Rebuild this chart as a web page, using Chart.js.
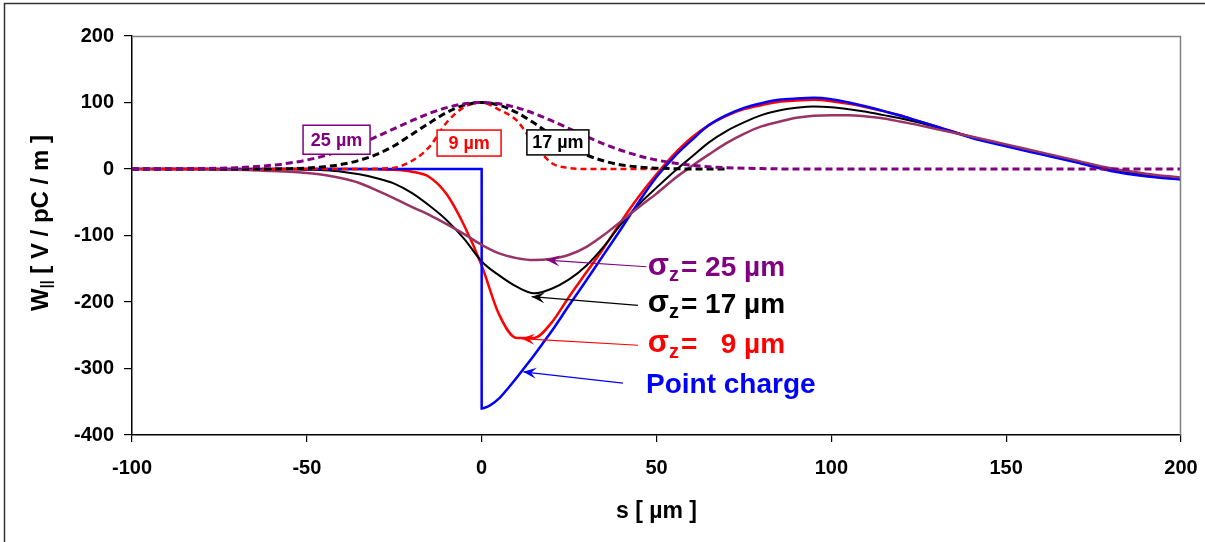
<!DOCTYPE html>
<html>
<head>
<meta charset="utf-8">
<script src="https://cdn.jsdelivr.net/npm/chart.js@4.4.1/dist/chart.umd.min.js"></script>
<style>
  html, body { margin: 0; padding: 0; background: #fff; overflow: hidden; }
  canvas { display: block; }
</style>
</head>
<body>
<canvas id="wake-chart" width="1205" height="542"></canvas>
<script>
// s positions [um] shared by the smoothed bunch wakes
const sSolid = [-100, -90, -80, -75, -70, -60, -55, -50, -45, -40, -35, -30, -25, -20, -15, -10, -5,
  0, 5, 10, 15, 20, 25, 30, 35, 40, 45, 50, 55, 60, 65, 70, 75, 80, 85, 90, 95, 100, 105, 110,
  115, 120, 125, 130, 140, 150, 160, 170, 180, 190, 200];

// wake potentials W|| [V/pC/m]
const wake9 = [0, 0, 0, 0, 0, 0, 0, 0, 0, 0, 0, -0.5, -1, -4, -12, -38, -85,
  -145, -219, -254, -254, -231, -192, -155, -118, -78, -41, -8, 22, 47, 66, 80, 90, 96, 101, 103, 104, 102, 98, 93,
  87, 80, 72, 64, 48, 35, 23, 11, -2, -10, -15];
const wake17 = [0, 0, 0, 0, 0, 0, 0, -1, -2, -4, -8, -14, -22, -36, -55, -77, -105,
  -139, -160, -177, -187, -180, -166, -145, -116, -82, -53, -28, -4, 18, 40, 57, 70, 81, 88, 92, 94, 93, 90, 86,
  81, 76, 70, 63, 48, 35, 23, 11, -1, -9, -14];
const wake25 = [0, 0, 0, -1, -1, -3, -4, -6, -9, -14, -21, -32, -44, -57, -69, -83, -98,
  -114, -127, -134, -137, -135, -129, -117, -99, -78, -57, -37, -15, 4, 22, 39, 53, 64, 71, 77, 80, 81, 81, 79,
  76, 71, 66, 60, 49, 37, 25, 13, 1, -7, -13];

// point charge wake (drops to its minimum right at s = 0)
const sPoint = [-100, -50, 0, 0, 2.5, 5, 7.5, 10, 12.5, 15, 17.5, 20, 25, 30, 35, 40, 45, 50, 55, 60, 65,
  70, 75, 80, 85, 90, 95, 100, 105, 110, 115, 120, 125, 130, 140, 150, 160, 170, 180, 190, 200];
const wakePoint = [0, 0, 0, -360, -355, -345, -330, -314, -297, -280, -262, -244, -205, -167, -128, -89, -49, -12, 18, 43, 66,
  81, 92, 99, 104, 106, 107, 105, 100, 94, 87, 80, 72, 64, 47, 34, 22, 10, -3, -11, -16];

// bunch profiles (normalised to 100)
const sBunch = [-100, -90, -80, -70, -60, -55, -50, -45, -40, -35, -30, -25, -20, -15, -10, -5,
  0, 5, 10, 15, 20, 25, 30, 35, 40, 45, 50, 55, 60, 65, 70, 80, 90, 100, 120, 140, 160, 180, 200];
const bunch9 = [0, 0, 0, 0, 0, 0, 0, 0, 0, 0, 0.5, 2, 12, 33, 70, 93,
  100, 89, 73, 38, 9, 1.5, 0, 0, 0, 0, 0, null, null, null, null, null, null, null, null, null, null, null, null];
const bunch17 = [0, 0, 0, 0, 0, 0.5, 1.5, 3.5, 7, 13, 22, 35, 52, 69, 85, 96,
  100, 96, 85, 69, 51, 34, 21, 12, 6, 3, 1.3, 0.5, 0, 0, 0, null, null, null, null, null, null, null, null];
const bunch25 = [0, 0, 0.6, 2, 5.6, 8.9, 13.5, 19.8, 27.8, 37.5, 48.7, 60.7, 72.6, 83.5, 92.3, 98,
  100, 98, 92.3, 83.5, 72.6, 60.7, 48.7, 37.5, 27.8, 19.8, 13.5, 8.9, 5.6, 3.4, 2, 0.6, 0, 0, 0, 0, 0, 0, 0];

const xTicks = [-100, -50, 0, 50, 100, 150, 200];
const yTicks = [-400, -300, -200, -100, 0, 100, 200];

const FONT = '"Liberation Sans", Arial, Helvetica, sans-serif';
const BLUE = '#0000FF', RED = '#FF0000', BLACK = '#000000', PURPLE = '#800080', PLUM = '#993366';

const pairs = (xs, ys) => xs.map((x, i) => ({ x, y: ys[i] }));

// callouts: label boxes on the bunch profiles and arrows to the wakes
const boxes = [
  { text: '25 µm', color: PURPLE, at: [-41.5, 44], w: 67, h: 29 },
  { text: '9 µm', color: RED, at: [-3.6, 39], w: 64, h: 26 },
  { text: '17 µm', color: BLACK, at: [21.8, 40], w: 62, h: 25 }
];
const arrows = [
  { sigma: true, value: '25 µm', color: PURPLE, tail: [47.1, -147], tip: [18.6, -137], at: [47.5, -149] },
  { sigma: true, value: '17 µm', color: BLACK, tail: [44.7, -205], tip: [14.3, -192], at: [47.5, -205] },
  { sigma: true, value: '  9 µm', color: RED, tail: [44.7, -265], tip: [11.4, -255], at: [47.5, -265] },
  { sigma: false, value: 'Point charge', color: BLUE, tail: [40.4, -322], tip: [11.9, -305], at: [47.0, -325] }
];

function arrowHead(ctx, x0, y0, x1, y1, color) {
  const a = Math.atan2(y1 - y0, x1 - x0);
  const len = 13, half = 5.5;
  ctx.save();
  ctx.translate(x1, y1);
  ctx.rotate(a);
  ctx.fillStyle = color;
  ctx.beginPath();
  ctx.moveTo(0, 0);
  ctx.lineTo(-len, -half);
  ctx.lineTo(-len * 0.6, 0);
  ctx.lineTo(-len, half);
  ctx.closePath();
  ctx.fill();
  ctx.restore();
}

const decorations = {
  id: 'decorations',
  beforeDraw(chart) {
    const ctx = chart.ctx;
    ctx.save();
    ctx.fillStyle = '#fff';
    ctx.fillRect(0, 0, chart.width, chart.height);
    ctx.strokeStyle = '#333';
    ctx.lineWidth = 1.5;
    ctx.beginPath();
    ctx.moveTo(4.5, chart.height);
    ctx.lineTo(4.5, 3.5);
    ctx.lineTo(chart.width, 3.5);
    ctx.stroke();
    ctx.restore();
  },
  afterDatasetsDraw(chart) {
    const ctx = chart.ctx;
    const { left, right, top, bottom } = chart.chartArea;
    const xs = chart.scales.x, ys = chart.scales.y;
    const px = v => xs.getPixelForValue(v), py = v => ys.getPixelForValue(v);

    ctx.save();
    // plot area frame (top / right)
    ctx.strokeStyle = '#808080';
    ctx.lineWidth = 1.5;
    ctx.beginPath();
    ctx.moveTo(left, top + 0.5);
    ctx.lineTo(right - 0.5, top + 0.5);
    ctx.lineTo(right - 0.5, bottom);
    ctx.stroke();

    // profile label boxes
    for (const b of boxes) {
      const cx = px(b.at[0]), cy = py(b.at[1]);
      ctx.fillStyle = '#fff';
      ctx.fillRect(cx - b.w / 2, cy - b.h / 2, b.w, b.h);
      ctx.strokeStyle = b.color;
      ctx.lineWidth = 1.5;
      ctx.strokeRect(cx - b.w / 2, cy - b.h / 2, b.w, b.h);
      ctx.fillStyle = b.color;
      ctx.font = 'bold 18px ' + FONT;
      ctx.textAlign = 'center';
      ctx.textBaseline = 'middle';
      ctx.fillText(b.text, cx, cy + 1);
    }

    // arrows + labels
    for (const a of arrows) {
      const x0 = px(a.tail[0]), y0 = py(a.tail[1]);
      const x1 = px(a.tip[0]), y1 = py(a.tip[1]);
      ctx.strokeStyle = a.color;
      ctx.lineWidth = 1.2;
      ctx.beginPath();
      ctx.moveTo(x0, y0);
      ctx.lineTo(x1, y1);
      ctx.stroke();
      arrowHead(ctx, x0, y0, x1, y1, a.color);

      let tx = px(a.at[0]);
      const ty = py(a.at[1]);
      ctx.fillStyle = a.color;
      ctx.textAlign = 'left';
      ctx.textBaseline = 'middle';
      if (a.sigma) {
        ctx.font = 'bold 31px ' + FONT;
        ctx.fillText('σ', tx, ty - 2);
        tx += ctx.measureText('σ').width;
        ctx.font = 'bold 20px ' + FONT;
        ctx.fillText('z', tx, ty + 7);
        tx += ctx.measureText('z').width + 2;
        ctx.font = 'bold 28px ' + FONT;
        ctx.fillText('= ' + a.value, tx, ty);
      } else {
        ctx.font = 'bold 28px ' + FONT;
        ctx.fillText(a.value, tx, ty);
      }
    }

    // axis titles
    ctx.fillStyle = '#000';
    ctx.font = 'bold 23px ' + FONT;
    ctx.textAlign = 'center';
    ctx.textBaseline = 'middle';
    ctx.fillText('s [ µm ]', (left + right) / 2, 512);

    ctx.translate(41, 223);
    ctx.rotate(-Math.PI / 2);
    const main = ' [ V / pC / m ]';
    ctx.font = 'bold 24px ' + FONT;
    const wW = ctx.measureText('W').width;
    const wMain = ctx.measureText(main).width;
    ctx.font = 'bold 14px ' + FONT;
    const wSub = ctx.measureText('||').width;
    let x = -(wW + wSub + wMain) / 2;
    ctx.textAlign = 'left';
    ctx.font = 'bold 24px ' + FONT;
    ctx.fillText('W', x, 0);
    x += wW;
    ctx.font = 'bold 14px ' + FONT;
    ctx.fillText('||', x, 6);
    x += wSub;
    ctx.font = 'bold 24px ' + FONT;
    ctx.fillText(main, x, 0);
    ctx.restore();
  }
};

const tickFont = { family: FONT, size: 20, weight: 'bold' };

new Chart(document.getElementById('wake-chart'), {
  type: 'line',
  data: {
    datasets: [
      { label: 'bunch 25 um', data: pairs(sBunch, bunch25), borderColor: PURPLE, borderWidth: 3, borderDash: [7, 4] },
      { label: 'bunch 17 um', data: pairs(sBunch, bunch17), borderColor: BLACK, borderWidth: 3, borderDash: [7, 4] },
      { label: 'bunch 9 um', data: pairs(sBunch, bunch9), borderColor: RED, borderWidth: 2.5, borderDash: [6, 4] },
      { label: 'sigma 25 um', data: pairs(sSolid, wake25), borderColor: PLUM, borderWidth: 2.5 },
      { label: 'point charge', data: pairs(sPoint, wakePoint), borderColor: BLUE, borderWidth: 2.5 },
      { label: 'sigma 17 um', data: pairs(sSolid, wake17), borderColor: BLACK, borderWidth: 2 },
      { label: 'sigma 9 um', data: pairs(sSolid, wake9), borderColor: RED, borderWidth: 2.5 }
    ]
  },
  options: {
    responsive: false,
    animation: false,
    devicePixelRatio: 1,
    layout: { padding: { top: 36, right: 24, left: 0, bottom: 0 } },
    plugins: { legend: { display: false }, tooltip: { enabled: false } },
    elements: {
      point: { radius: 0, hoverRadius: 0 },
      line: { cubicInterpolationMode: 'monotone', fill: false }
    },
    scales: {
      x: {
        type: 'linear', min: -100, max: 200,
        afterFit: s => { s.height = 107; s.paddingLeft = 0; s.paddingRight = 0; },
        afterBuildTicks: s => { s.ticks = xTicks.map(v => ({ value: v })); },
        ticks: { color: '#000', font: tickFont, padding: 14, maxRotation: 0 },
        grid: { drawOnChartArea: false, tickLength: 7, color: '#000', lineWidth: 1.2 },
        border: { color: '#000', width: 1.5 }
      },
      y: {
        type: 'linear', min: -400, max: 200,
        afterFit: s => { s.width = 132; s.paddingTop = 0; s.paddingBottom = 0; },
        afterBuildTicks: s => { s.ticks = yTicks.map(v => ({ value: v })); },
        ticks: { color: '#000', font: tickFont, padding: 10 },
        grid: { drawOnChartArea: false, tickLength: 8, color: '#000', lineWidth: 1.2 },
        border: { color: '#000', width: 1.5 }
      }
    }
  },
  plugins: [decorations]
});
</script>
</body>
</html>
